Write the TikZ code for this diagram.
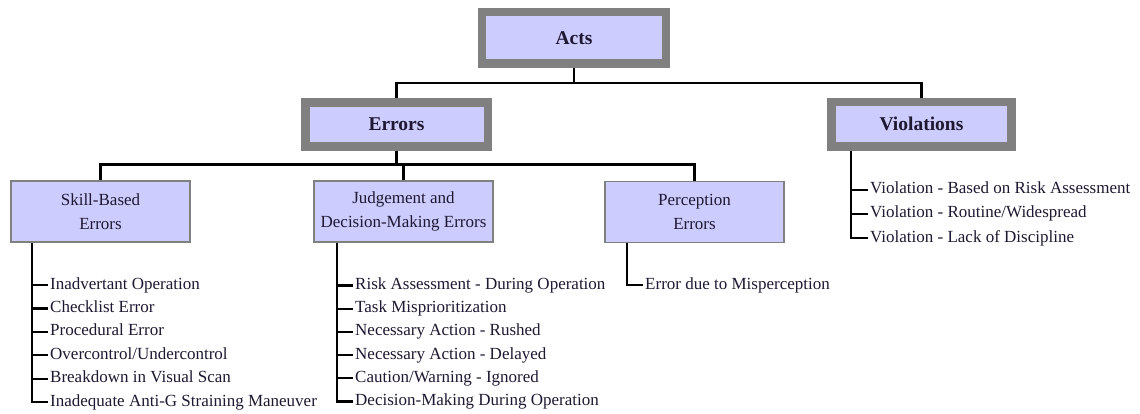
\documentclass[tikz,border=0pt]{standalone}
\usepackage{fontspec}
\setmainfont{Liberation Serif}
\usetikzlibrary{backgrounds}
\definecolor{boxfill}{HTML}{CCCCFF}
\definecolor{framegray}{HTML}{808080}
\definecolor{inkdark}{HTML}{1E1830}
\begin{document}
\begin{tikzpicture}[x=1pt,y=-1pt,
  mainbox/.style={draw=framegray, line width=8.5pt, fill=boxfill, inner sep=0pt,
    text=inkdark, font=\fontsize{19.5}{22}\selectfont\bfseries},
  subbox/.style={draw=framegray, line width=1.8pt, fill=boxfill, inner sep=0pt,
    minimum width=179pt, minimum height=61pt, align=center, text=inkdark,
    font=\fontsize{17}{24}\selectfont},
  item/.style={anchor=west, inner xsep=2pt, inner ysep=0pt, text=inkdark,
    font=\fontsize{17}{20}\selectfont, text height=11pt, text depth=3pt},
  link/.style={line width=2.2pt, black}]
\useasboundingbox (0,0) rectangle (1140,414);

% top level
\node[mainbox, minimum width=184pt, minimum height=51.5pt] (acts) at (574,37.75) {Acts};
\node[mainbox, minimum width=182.5pt, minimum height=44pt] (errors) at (396.5,124.5) {Errors};
\node[mainbox, minimum width=180pt, minimum height=44.5pt] (viol) at (921.5,124.25) {Violations};

% error categories
\node[subbox] (skill) at (100.5,211.5) {Skill-Based\\Errors};
\node[subbox] (judg) at (403.5,211.5) {Judgement and\\Decision-Making Errors};
\node[subbox] (perc) at (694.5,212) {Perception\\Errors};

% leaf items
\foreach [count=\k] \t in {Inadvertant Operation, Checklist Error, Procedural Error,
    Overcontrol/Undercontrol, Breakdown in Visual Scan, Inadequate Anti-G Straining Maneuver}
  \node[item] (s\k) at (48,{285+23.4*(\k-1)}) {\t};
\foreach [count=\k] \t in {Risk Assessment - During Operation, Task Misprioritization,
    Necessary Action - Rushed, Necessary Action - Delayed, Caution/Warning - Ignored,
    Decision-Making During Operation}
  \node[item] (j\k) at (353,{285.5+23.2*(\k-1)}) {\t};
\node[item] (p1) at (643,285) {Error due to Misperception};
\foreach [count=\k] \t in {Violation - Based on Risk Assessment, Violation - Routine/Widespread,
    Violation - Lack of Discipline}
  \node[item] (v\k) at (868,{190+24*(\k-1)}) {\t};

% connectors
\coordinate (actsbar) at (574,83);
\coordinate (errbar) at (396.5,164.5);
\coordinate (sv) at (32,0);
\coordinate (jv) at (337,0);
\coordinate (pv) at (627,0);
\coordinate (vv) at (851,0);
\begin{pgfonlayer}{background}
  \draw[link] (acts.south) -- (actsbar);
  \draw[link] (errors.north) -- (errors.north |- actsbar) -- (viol.north |- actsbar) -- (viol.north);
  \draw[link] (errors.south) -- (errbar);
  \draw[link] (skill.north) -- (skill.north |- errbar) -- (perc.north |- errbar) -- (perc.north);
  \draw[link] (judg.north) -- (judg.north |- errbar);
  \foreach \k in {1,...,6} {
    \draw[link] (skill.south -| sv) |- (s\k.west);
    \draw[link] (judg.south -| jv) |- (j\k.west);
  }
  \draw[link] (perc.south -| pv) |- (p1.west);
  \foreach \k in {1,2,3}
    \draw[link] (viol.south -| vv) |- (v\k.west);
\end{pgfonlayer}
\end{tikzpicture}
\end{document}
